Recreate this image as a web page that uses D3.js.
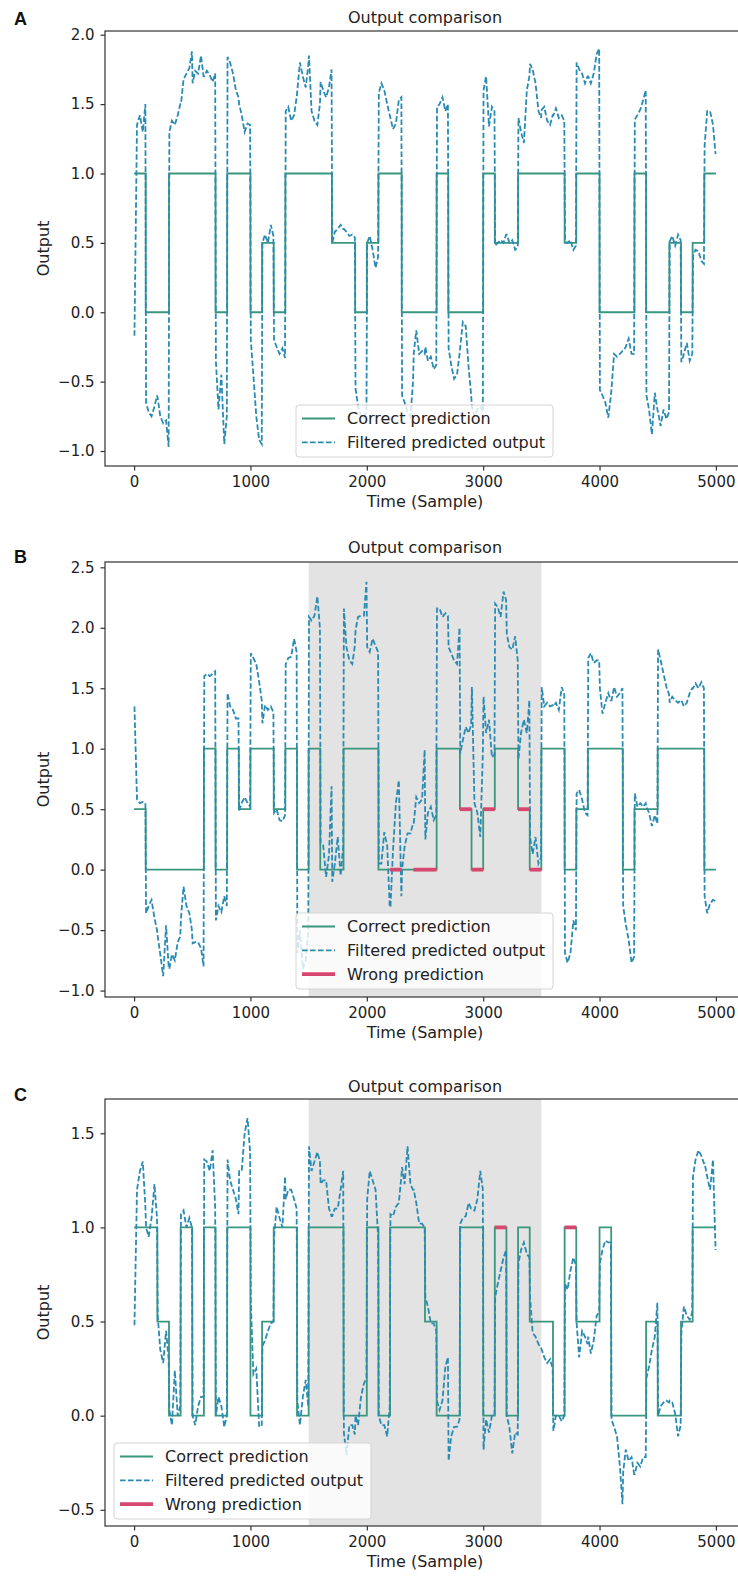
<!DOCTYPE html>
<html>
<head>
<meta charset="UTF-8">
<title>Output comparison</title>
<style>
  body { margin: 0; background: #fff; }
  svg { display: block; font-family: "DejaVu Sans", sans-serif; }
</style>
</head>
<body>
<script src="https://cdn.jsdelivr.net/npm/d3@7"></script>
<script>
// correct class per 100-sample block, 50 blocks (0..5000)
const blockStarts = d3.range(0, 5000, 100);
// filtered output is read 5 times inside every block
const readOffsets = [3, 25, 50, 75, 97];
const xTicks = [0, 1000, 2000, 3000, 4000, 5000];

const correctA = [1, 0, 0, 1, 1, 1, 1, 0, 1, 1,
  0, 0.5, 0, 1, 1, 1, 1, 0.5, 0.5, 0,
  0.5, 1, 1, 0, 0, 0, 1, 0, 0, 0,
  1, 0.5, 0.5, 1, 1, 1, 1, 0.5, 1, 1,
  0, 0, 0, 1, 0, 0, 0.5, 0, 0.5, 1];
const filteredA = [
  -0.17, 1.35, 1.42, 1.3, 1.5,  -0.65, -0.72, -0.75, -0.68, -0.6,  -0.62, -0.75, -0.8, -0.78, -0.97,  1.3, 1.38, 1.35, 1.42, 1.5,  1.5, 1.68, 1.72, 1.76, 1.88,
  1.65, 1.74, 1.72, 1.85, 1.7,  1.7, 1.74, 1.71, 1.66, 1.72,  -0.35, -0.7, -0.45, -0.95, -0.75,  1.84, 1.8, 1.72, 1.6, 1.55,  1.5, 1.42, 1.3, 1.36, 1.35,
  -0.2, -0.45, -0.75, -0.92, -0.95,  0.5, 0.56, 0.5, 0.63, 0.55,  -0.2, -0.25, -0.3, -0.26, -0.33,  1.45, 1.48, 1.38, 1.42, 1.55,  1.6, 1.8, 1.7, 1.62, 1.78,
  1.85, 1.45, 1.38, 1.35, 1.5,  1.66, 1.6, 1.55, 1.62, 1.75,  0.5, 0.58, 0.6, 0.63, 0.6,  0.6, 0.58, 0.55, 0.56, 0.54,  -0.55, -0.68, -0.75, -0.76, -0.72,
  0.5, 0.55, 0.45, 0.32, 0.4,  1.58, 1.65, 1.6, 1.5, 1.42,  1.4, 1.32, 1.36, 1.53, 1.55,  -0.6, -0.65, -0.72, -0.75, -0.5,  -0.3, -0.13, -0.3, -0.28, -0.3,
  -0.25, -0.35, -0.32, -0.41, -0.38,  1.48, 1.5, 1.55, 1.45, 1.5,  -0.26, -0.38, -0.48, -0.45, -0.3,  -0.25, -0.07, -0.1, -0.4, -0.6,  -0.68, -0.75, -0.7, -0.68, -0.72,
  1.6, 1.7, 1.34, 1.48, 1.45,  0.48, 0.5, 0.52, 0.5, 0.56,  0.56, 0.5, 0.52, 0.45, 0.47,  1.4, 1.3, 1.22, 1.6, 1.7,  1.79, 1.75, 1.65, 1.45, 1.4,
  1.46, 1.48, 1.38, 1.35, 1.42,  1.42, 1.47, 1.4, 1.42, 1.38,  0.51, 0.5, 0.52, 0.45, 0.48,  1.8, 1.75, 1.72, 1.65, 1.7,  1.7, 1.65, 1.72, 1.86, 1.9,
  -0.56, -0.6, -0.65, -0.76, -0.6,  -0.55, -0.3, -0.32, -0.3, -0.28,  -0.28, -0.25, -0.19, -0.3, -0.3,  1.39, 1.42, 1.46, 1.53, 1.6,  -0.6, -0.7, -0.88, -0.58, -0.7,
  -0.72, -0.82, -0.7, -0.77, -0.72,  0.51, 0.55, 0.48, 0.56, 0.52,  -0.36, -0.3, -0.22, -0.35, -0.3,  0.41, 0.45, 0.44, 0.37, 0.35,  1.2, 1.45, 1.45, 1.35, 1.14];
const wrongA = [];
const yTicksA = [-1, -0.5, 0, 0.5, 1, 1.5, 2];

const correctB = [0.5, 0, 0, 0, 0, 0, 1, 0, 1, 0.5,
  1, 1, 0.5, 1, 0, 1, 0, 0, 1, 1,
  1, 0, 0, 0, 0, 0, 1, 1, 0.5, 0,
  0.5, 1, 1, 0.5, 0, 1, 1, 0, 0.5, 1,
  1, 1, 0, 0.5, 0.5, 1, 1, 1, 1, 0];
const filteredB = [
  1.35, 0.58, 0.55, 0.56, 0.55,  -0.36, -0.3, -0.25, -0.4, -0.5,  -0.55, -0.7, -0.88, -0.46, -0.8,  -0.82, -0.7, -0.75, -0.6, -0.55,  -0.4, -0.14, -0.3, -0.36, -0.5,
  -0.61, -0.6, -0.6, -0.65, -0.8,  1.6, 1.62, 1.6, 1.62, 1.64,  -0.42, -0.3, -0.35, -0.22, -0.3,  1.46, 1.35, 1.32, 1.25, 1.25,  0.49, 0.55, 0.6, 0.55, 0.52,
  1.79, 1.75, 1.7, 1.55, 1.4,  1.21, 1.36, 1.32, 1.35, 1.3,  0.47, 0.5, 0.41, 0.4, 0.45,  1.7, 1.75, 1.76, 1.91, 1.8,  -0.69, -0.5, -0.82, -0.75, -0.5,
  2.09, 2.06, 2.1, 2.26, 2.0,  0.22, 0.2, -0.06, 0.12, 0.69,  -0.1, 0.05, 0.27, -0.05, 0.2,  2.16, 1.84, 1.73, 1.7, 1.85,  1.98, 2.09, 2.1, 2.1, 2.38,
  1.84, 1.8, 1.91, 1.85, 1.8,  0.05, 0.05, 0.31, 0.2, -0.31,  -0.31, 0.16, 0.55, 0.74, -0.22,  0.0, 0.19, 0.3, 0.3, 0.38,  0.38, 0.6, 0.55, 0.58, 0.99,
  0.25, 0.47, 0.52, 0.41, 0.45,  2.16, 2.16, 2.09, 2.12, 2.1,  1.84, 1.79, 1.73, 1.7, 2.0,  0.96, 1.07, 1.18, 1.13, 1.2,  1.51, 0.55, 0.47, 0.27, 0.96,
  1.43, 1.13, 1.24, 0.93, 0.95,  2.2, 2.17, 2.09, 2.3, 2.23,  1.95, 1.84, 1.82, 1.93, 1.73,  0.91, 1.13, 1.24, 1.13, 1.4,  0.27, 0.13, 0.27, 0.05, 0.1,
  1.51, 1.35, 1.38, 1.35, 1.36,  1.35, 1.38, 1.32, 1.51, 1.45,  -0.69, -0.77, -0.69, -0.42, -0.5,  0.63, 0.66, 0.58, 0.47, 0.45,  1.75, 1.79, 1.71, 1.73, 1.73,
  1.5, 1.29, 1.38, 1.46, 1.4,  1.4, 1.51, 1.43, 1.46, 1.5,  -0.3, -0.45, -0.58, -0.77, -0.72,  0.63, 0.52, 0.55, 0.52, 0.55,  0.52, 0.47, 0.36, 0.45, 0.38,
  1.82, 1.73, 1.62, 1.51, 1.45,  1.38, 1.43, 1.4, 1.38, 1.4,  1.4, 1.35, 1.38, 1.46, 1.5,  1.5, 1.54, 1.5, 1.55, 1.5,  -0.22, -0.36, -0.28, -0.25, -0.26];
const wrongB = [22, 24, 25, 28, 29, 30, 33, 34];
const yTicksB = [-1, -0.5, 0, 0.5, 1, 1.5, 2, 2.5];

const correctC = [1, 1, 0.5, 0, 1, 0, 1, 0, 1, 1,
  0, 0.5, 1, 1, 0, 1, 1, 1, 0, 0,
  1, 0, 1, 1, 1, 0.5, 0, 0, 1, 1,
  0, 1, 0, 1, 0.5, 0.5, 0, 1, 0.5, 0.5,
  1, 0, 0, 0, 0.5, 0, 0, 0.5, 1, 1];
const filteredC = [
  0.48, 1.2, 1.3, 1.35, 1.11,  1.0, 0.95, 1.05, 1.23, 1.05,  0.53, 0.35, 0.28, 0.45, 0.3,  0.03, -0.05, 0.24, 0.0, 0.05,  1.07, 1.09, 1.0, 1.05, 1.0,
  0.0, -0.05, 0.05, 0.1, 0.1,  1.36, 1.35, 1.3, 1.41, 1.1,  0.0, 0.1, 0.05, -0.06, 0.0,  1.36, 1.25, 1.2, 1.15, 1.07,  1.3, 1.3, 1.5, 1.58, 1.4,
  0.6, 0.22, 0.25, -0.06, -0.05,  0.37, 0.4, 0.45, 0.49, 0.5,  0.95, 1.11, 1.05, 1.0, 1.27,  1.15, 1.2, 1.2, 1.15, 1.1,  0.08, -0.05, 0.1, 0.19, 0.05,
  1.43, 1.3, 1.35, 1.4, 1.35,  1.23, 1.25, 1.25, 1.1, 1.06,  1.06, 1.1, 1.1, 1.2, 1.3,  -0.09, -0.21, -0.05, -0.05, -0.1,  0.0, -0.05, 0.1, 0.17, 0.2,
  1.15, 1.3, 1.25, 1.2, 0.95,  0.0, -0.05, -0.05, -0.11, 0.05,  1.07, 1.06, 1.11, 1.13, 1.27,  1.32, 1.23, 1.43, 1.23, 1.2,  1.2, 1.13, 1.02, 1.02, 1.0,
  0.63, 0.58, 0.49, 0.49, 0.45,  0.08, 0.03, 0.08, 0.26, 0.31,  -0.24, -0.11, -0.06, -0.06, -0.02,  1.02, 1.05, 1.06, 1.13, 1.1,  1.1, 1.09, 1.15, 1.3, 1.2,
  -0.18, -0.02, -0.09, 0.0, 0.0,  0.63, 0.7, 0.77, 0.84, 0.88,  0.0, -0.06, -0.2, -0.09, -0.1,  0.81, 0.88, 0.92, 0.86, 0.84,  0.63, 0.44, 0.42, 0.38, 0.36,
  0.35, 0.31, 0.28, 0.3, 0.25,  -0.08, 0.0, 0.0, -0.03, 0.0,  0.7, 0.67, 0.77, 0.84, 0.8,  0.49, 0.31, 0.45, 0.42, 0.38,  0.42, 0.33, 0.4, 0.53, 0.55,
  0.81, 0.88, 0.93, 0.92, 0.92,  -0.02, -0.06, -0.11, -0.27, -0.47,  -0.3, -0.18, -0.24, -0.22, -0.31,  -0.31, -0.25, -0.27, -0.22, -0.22,  0.2, 0.26, 0.35, 0.42, 0.6,
  0.0, 0.05, 0.07, 0.08, 0.07,  0.08, 0.07, 0.01, -0.11, -0.05,  0.44, 0.58, 0.53, 0.51, 0.55,  1.27, 1.36, 1.41, 1.38, 1.34,  1.34, 1.27, 1.2, 1.36, 0.88];
const wrongC = [31, 37];
const yTicksC = [-0.5, 0, 0.5, 1, 1.5];

const shadeSpan = [1500, 3500];
const legendLabels = ["Correct prediction", "Filtered predicted output", "Wrong prediction"];

const colGreen = "#3a977e", colBlue = "#2a8bb2", colRed = "#d6486f";
const W = 738, H = 1583;

const svg = d3.select("body").append("svg").attr("width", W).attr("height", H);

const panels = [
  {letter: "A", top: 31, bottom: 466, yDom: [-1.108, 2.027], yTicks: yTicksA,
   correct: correctA, filtered: filteredA, wrong: wrongA, shade: false,
   letterY: 25, titleY: 22.5, legend: {x: 296, y: 405, rows: 2}},
  {letter: "B", top: 562, bottom: 997, yDom: [-1.053, 2.544], yTicks: yTicksB,
   correct: correctB, filtered: filteredB, wrong: wrongB, shade: true,
   letterY: 563, titleY: 553, legend: {x: 296, y: 913, rows: 3}},
  {letter: "C", top: 1099, bottom: 1526, yDom: [-0.586, 1.682], yTicks: yTicksC,
   correct: correctC, filtered: filteredC, wrong: wrongC, shade: true,
   letterY: 1101, titleY: 1092, legend: {x: 114, y: 1443, rows: 3}}
];

const left = 105, right = 745;
const x = d3.scaleLinear().domain([-250, 5250]).range([left, right]);
const readTimes = blockStarts.flatMap(b => readOffsets.map(o => b + o));

panels.forEach(p => {
  const y = d3.scaleLinear().domain(p.yDom).range([p.bottom, p.top]);
  const g = svg.append("g");

  if (p.shade) {
    g.append("rect")
      .attr("x", x(shadeSpan[0])).attr("y", p.top)
      .attr("width", x(shadeSpan[1]) - x(shadeSpan[0]))
      .attr("height", p.bottom - p.top)
      .attr("fill", "#e3e3e3");
  }

  // correct prediction: step line
  const stepPts = blockStarts.map((b, i) => [b, p.correct[i]]);
  stepPts.push([5000, p.correct[p.correct.length - 1]]);
  g.append("path")
    .attr("d", d3.line().x(d => x(d[0])).y(d => y(d[1])).curve(d3.curveStepAfter)(stepPts))
    .attr("fill", "none").attr("stroke", colGreen).attr("stroke-width", 1.8);

  // filtered predicted output
  const filtPts = readTimes.map((t, i) => [t, p.filtered[i]]);
  g.append("path")
    .attr("d", d3.line().x(d => x(d[0])).y(d => y(d[1]))(filtPts))
    .attr("fill", "none").attr("stroke", colBlue).attr("stroke-width", 1.8)
    .attr("stroke-dasharray", "5.6,2.4");

  // wrong predictions
  g.selectAll(".wrong").data(p.wrong).enter().append("line")
    .attr("x1", i => x(blockStarts[i])).attr("x2", i => x(blockStarts[i] + 100))
    .attr("y1", i => y(p.correct[i])).attr("y2", i => y(p.correct[i]))
    .attr("stroke", colRed).attr("stroke-width", 3.8);

  // axes
  const xAxis = g.append("g").attr("transform", "translate(0," + p.bottom + ")")
    .call(d3.axisBottom(x).tickValues(xTicks).tickSize(4.5).tickPadding(6).tickFormat(d3.format("d")));
  const yAxis = g.append("g").attr("transform", "translate(" + left + ",0)")
    .call(d3.axisLeft(y).tickValues(p.yTicks).tickSize(4.5).tickPadding(6).tickFormat(d3.format(".1f")));
  [xAxis, yAxis].forEach(a => {
    a.select(".domain").remove();
    a.selectAll("line").attr("stroke", "#333").attr("stroke-width", 1.2);
    a.selectAll("text").attr("fill", "#222").style("font-size", "15px")
      .style("font-family", "'DejaVu Sans', sans-serif");
  });

  g.append("rect")
    .attr("x", left).attr("y", p.top)
    .attr("width", right - left).attr("height", p.bottom - p.top)
    .attr("fill", "none").attr("stroke", "#333").attr("stroke-width", 1.2);

  // legend
  const lg = g.append("g").attr("transform", "translate(" + p.legend.x + "," + p.legend.y + ")");
  lg.append("rect")
    .attr("width", 257).attr("height", p.legend.rows === 2 ? 52 : 76).attr("rx", 3)
    .attr("fill", "#fff").attr("fill-opacity", 0.8)
    .attr("stroke", "#d4d4d4").attr("stroke-width", 1);
  legendLabels.slice(0, p.legend.rows).forEach((lab, i) => {
    const ry = 13.5 + i * 23.8;
    const ln = lg.append("line").attr("x1", 6).attr("x2", 39).attr("y1", ry).attr("y2", ry);
    if (i === 0) ln.attr("stroke", colGreen).attr("stroke-width", 1.8);
    if (i === 1) ln.attr("stroke", colBlue).attr("stroke-width", 1.8).attr("stroke-dasharray", "5.6,2.4");
    if (i === 2) ln.attr("stroke", colRed).attr("stroke-width", 3.8);
    lg.append("text").attr("x", 51).attr("y", ry).attr("dy", "0.36em")
      .style("font-size", "16px").attr("fill", "#222").text(lab);
  });

  // titles and labels
  g.append("text").attr("x", (left + right) / 2).attr("y", p.titleY)
    .attr("text-anchor", "middle").style("font-size", "16px").attr("fill", "#222")
    .text("Output comparison");
  g.append("text").attr("x", (left + right) / 2).attr("y", p.bottom + 41)
    .attr("text-anchor", "middle").style("font-size", "16px").attr("fill", "#222")
    .text("Time (Sample)");
  g.append("text").attr("transform", "translate(49," + (p.top + p.bottom) / 2 + ") rotate(-90)")
    .attr("text-anchor", "middle").style("font-size", "16px").attr("fill", "#222")
    .text("Output");
  g.append("text").attr("x", 14).attr("y", p.letterY)
    .style("font-family", "'Liberation Sans', Arial, sans-serif")
    .style("font-size", "18px").style("font-weight", "bold").attr("fill", "#111")
    .text(p.letter);
});
</script>
</body>
</html>
